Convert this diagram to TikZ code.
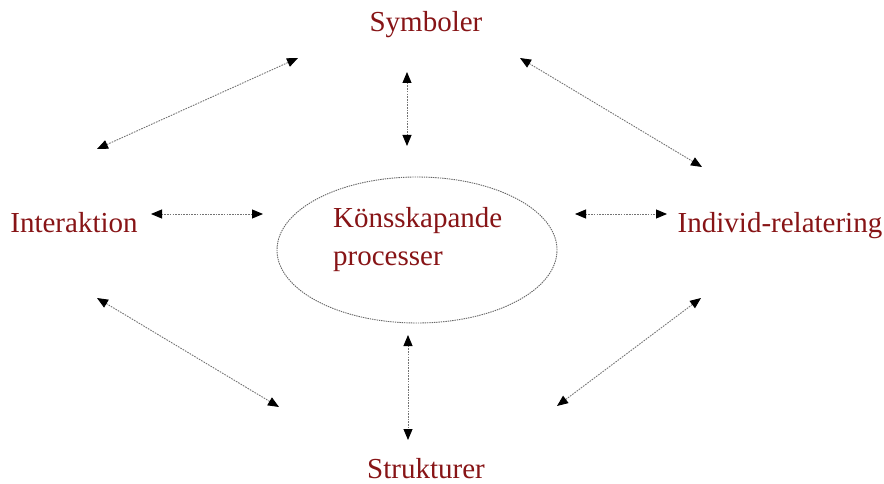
\documentclass[tikz,border=0pt]{standalone}
\usepackage{fontspec}
\setmainfont{Liberation Serif}
\usetikzlibrary{arrows.meta,shapes.geometric}
\definecolor{labelred}{RGB}{135,20,22}
\begin{document}
\begin{tikzpicture}[x=1pt,y=-1pt,
  lbl/.style={text=labelred,font=\fontsize{29}{38}\selectfont,inner sep=0pt},
  link/.style={draw=black!55,line width=0.9pt,dash pattern=on 1.6pt off 1.1pt,
    {Triangle[length=11pt,width=9pt,color=black]}-{Triangle[length=11pt,width=9pt,color=black]}},
  ring/.style={ellipse,draw=black!60,line width=0.9pt,dash pattern=on 1.4pt off 0.9pt,
    minimum width=280pt,minimum height=146pt,inner sep=0pt}]
\useasboundingbox (0,0) rectangle (884,484);
% nodes
\node[lbl,anchor=base] (sym) at (426,32) {Symboler};
\node[lbl,anchor=base] (int) at (74,232) {Interaktion};
\node[lbl,anchor=base] (ind) at (780,232) {Individ-relatering};
\node[lbl,anchor=base] (str) at (426,478) {Strukturer};
\node[ring] (proc) at (417,250) {};
\node[lbl,align=left,anchor=base west] (ptext) at (333,265) {Könsskapande\\processer};
% arrow ends
\coordinate (a1) at (97,149);  \coordinate (a2) at (298,58);
\coordinate (b1) at (407,72);  \coordinate (b2) at (407,146);
\coordinate (c1) at (520,58);  \coordinate (c2) at (702,167);
\coordinate (d1) at (151,214); \coordinate (d2) at (263,214);
\coordinate (e1) at (575,214); \coordinate (e2) at (667,214);
\coordinate (f1) at (97,298);  \coordinate (f2) at (279,407);
\coordinate (g1) at (408,335); \coordinate (g2) at (408,440);
\coordinate (h1) at (701,298); \coordinate (h2) at (557,406);
% connectors
\draw[link] (a1) -- (a2);
\draw[link] (b1) -- (b2);
\draw[link] (c1) -- (c2);
\draw[link] (d1) -- (d2);
\draw[link] (e1) -- (e2);
\draw[link] (f1) -- (f2);
\draw[link] (g1) -- (g2);
\draw[link] (h1) -- (h2);
\end{tikzpicture}
\end{document}
